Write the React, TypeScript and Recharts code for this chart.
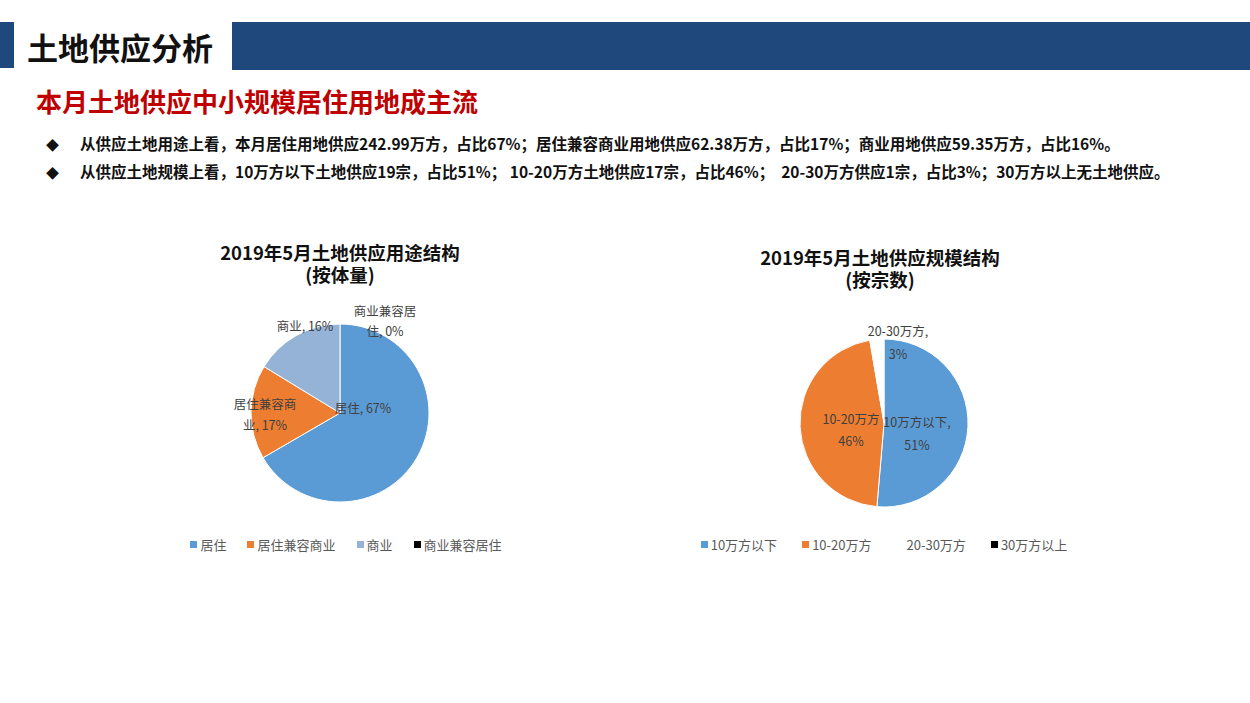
import { PieChart, Pie, Cell, Legend } from 'recharts';

const useNames = ['居住', '居住兼容商业', '商业', '商业兼容居住'];
const useValues = [242.99, 62.38, 59.35, 0];
const useColors = ['#5B9BD5', '#ED7D31', '#95B3D7', '#000000'];

const scaleNames = ['10万方以下', '10-20万方', '20-30万方', '30万方以上'];
const scaleValues = [19, 17, 1, 0];
const scaleColors = ['#5B9BD5', '#ED7D31', '#FFFFFF', '#000000'];

const bullets = [
  '从供应土地用途上看，本月居住用地供应242.99万方，占比67%；居住兼容商业用地供应62.38万方，占比17%；商业用地供应59.35万方，占比16%。',
  '从供应土地规模上看，10万方以下土地供应19宗，占比51%； 10-20万方土地供应17宗，占比46%；  20-30万方供应1宗，占比3%；30万方以上无土地供应。',
];

const useData = useNames.map((name, i) => ({ name, value: useValues[i] }));
const scaleData = scaleNames.map((name, i) => ({ name, value: scaleValues[i] }));

const FONT = '"Noto Sans CJK SC", "Noto Sans", sans-serif';
const BLUE = '#1F497D';

// label placement relative to pie centre (Excel "best fit" look)
type LabelPos = { dx: number; dy: number; split?: number; sep?: string; gap: number } | null;
const useLabelPos: LabelPos[] = [
  { dx: 23, dy: -6, gap: 21 },
  { dx: -75, dy: 0, split: 5, gap: 21 },
  { dx: -35, dy: -88, gap: 21 },
  { dx: 45, dy: -93, split: 5, gap: 20 },
];
const scaleLabelPos: LabelPos[] = [
  { dx: 33, dy: 9, split: 7, gap: 23 },
  { dx: -33, dy: 6, split: 7, sep: '', gap: 22 },
  { dx: 14, dy: -82, split: 7, gap: 23 },
  null,
];

function makeLabel(layout: LabelPos[]) {
  return (props: any) => {
    const pos = layout[props.index];
    if (!pos) return null;
    const pct = Math.round(props.percent * 100);
    const sep = pos.sep !== undefined ? pos.sep : ',';
    const full = `${props.name}${sep} ${pct}%`;
    let lines = [full];
    if (pos.split !== undefined) {
      const name = String(props.name);
      if (pos.split >= name.length) {
        lines = [name + sep, `${pct}%`];
      } else {
        lines = [full.slice(0, pos.split), full.slice(pos.split)];
      }
    }
    const x = props.cx + pos.dx;
    const y0 = props.cy + pos.dy - ((lines.length - 1) * pos.gap) / 2;
    return (
      <text
        x={x}
        y={y0}
        textAnchor="middle"
        dominantBaseline="central"
        fill="#404040"
        fontSize={12.5}
        fontFamily={FONT}
      >
        {lines.map((l, i) => (
          <tspan key={i} x={x} y={y0 + i * pos.gap}>
            {l}
          </tspan>
        ))}
      </text>
    );
  };
}

function makeLegend(order: string[], gap: number) {
  return (props: any) => {
    const payload = [...(props.payload || [])].sort(
      (a: any, b: any) => order.indexOf(a.value) - order.indexOf(b.value)
    );
    return (
      <div
        style={{
          display: 'flex',
          justifyContent: 'center',
          gap,
          fontFamily: FONT,
          fontSize: 13,
          color: '#595959',
          whiteSpace: 'nowrap',
        }}
      >
        {payload.map((p: any, i: number) => (
          <div key={i} style={{ display: 'flex', alignItems: 'center' }}>
            <span style={{ width: 7, height: 7, background: p.color, marginRight: 3, display: 'inline-block' }} />
            <span>{p.value}</span>
          </div>
        ))}
      </div>
    );
  };
}

function Title({ x, y, lines }: { x: number; y: number; lines: string[] }) {
  return (
    <div
      style={{
        position: 'absolute',
        left: x - 200,
        top: y,
        width: 400,
        textAlign: 'center',
        fontFamily: FONT,
        fontWeight: 700,
        fontSize: 18.5,
        lineHeight: '22px',
        color: '#111',
      }}
    >
      {lines.map((l) => (
        <div key={l}>{l}</div>
      ))}
    </div>
  );
}

export default function App() {
  return (
    <div style={{ position: 'absolute', left: 0, top: 0, width: 1250, height: 703, background: '#fff', overflow: 'hidden' }}>
      {/* header */}
      <div style={{ position: 'absolute', left: 0, top: 22, width: 14, height: 46, background: BLUE }} />
      <div style={{ position: 'absolute', left: 232, top: 22, width: 1018, height: 48, background: BLUE }} />
      <div
        style={{
          position: 'absolute',
          left: 27,
          top: 26,
          fontFamily: FONT,
          fontWeight: 700,
          fontSize: 31,
          lineHeight: '42px',
          color: '#111',
        }}
      >
        土地供应分析
      </div>
      <div
        style={{
          position: 'absolute',
          left: 36,
          top: 84,
          fontFamily: FONT,
          fontWeight: 700,
          fontSize: 26,
          lineHeight: '34px',
          color: '#C00000',
        }}
      >
        本月土地供应中小规模居住用地成主流
      </div>
      {bullets.map((b, i) => (
        <div
          key={i}
          style={{
            position: 'absolute',
            left: 46,
            top: 132 + i * 28,
            fontFamily: FONT,
            fontWeight: 700,
            fontSize: 15.5,
            lineHeight: '22px',
            color: '#111',
            whiteSpace: 'pre',
          }}
        >
          <span style={{ display: 'inline-block', width: 34, fontSize: 13 }}>◆</span>
          {b}
        </div>
      ))}

      <Title x={340} y={241} lines={['2019年5月土地供应用途结构', '(按体量)']} />
      <Title x={880} y={246} lines={['2019年5月土地供应规模结构', '(按宗数)']} />

      <div style={{ position: 'absolute', left: 176, top: 230 }}>
        <PieChart width={340} height={340}>
          <Pie
            data={useData}
            dataKey="value"
            nameKey="name"
            cx={159}
            cy={178}
            outerRadius={89}
            startAngle={90}
            endAngle={-270}
            stroke="#ffffff"
            strokeWidth={1}
            labelLine={false}
            label={makeLabel(useLabelPos)}
            isAnimationActive={false}
          >
            {useData.map((d, i) => (
              <Cell key={d.name} fill={useColors[i]} />
            ))}
          </Pie>
          <Legend
            content={makeLegend(useNames, 21)}
            wrapperStyle={{ position: 'absolute', top: 305, left: 0, width: 340 }}
          />
        </PieChart>
      </div>

      <div style={{ position: 'absolute', left: 714, top: 230 }}>
        <PieChart width={340} height={340}>
          <Pie
            data={scaleData}
            dataKey="value"
            nameKey="name"
            cx={165}
            cy={188}
            outerRadius={84}
            startAngle={90}
            endAngle={-270}
            stroke="#ffffff"
            strokeWidth={1}
            labelLine={false}
            label={makeLabel(scaleLabelPos)}
            isAnimationActive={false}
          >
            {scaleData.map((d, i) => (
              <Cell key={d.name} fill={scaleColors[i]} />
            ))}
          </Pie>
          <Legend
            content={makeLegend(scaleNames, 25)}
            wrapperStyle={{ position: 'absolute', top: 305, left: 0, width: 340 }}
          />
        </PieChart>
      </div>
    </div>
  );
}
